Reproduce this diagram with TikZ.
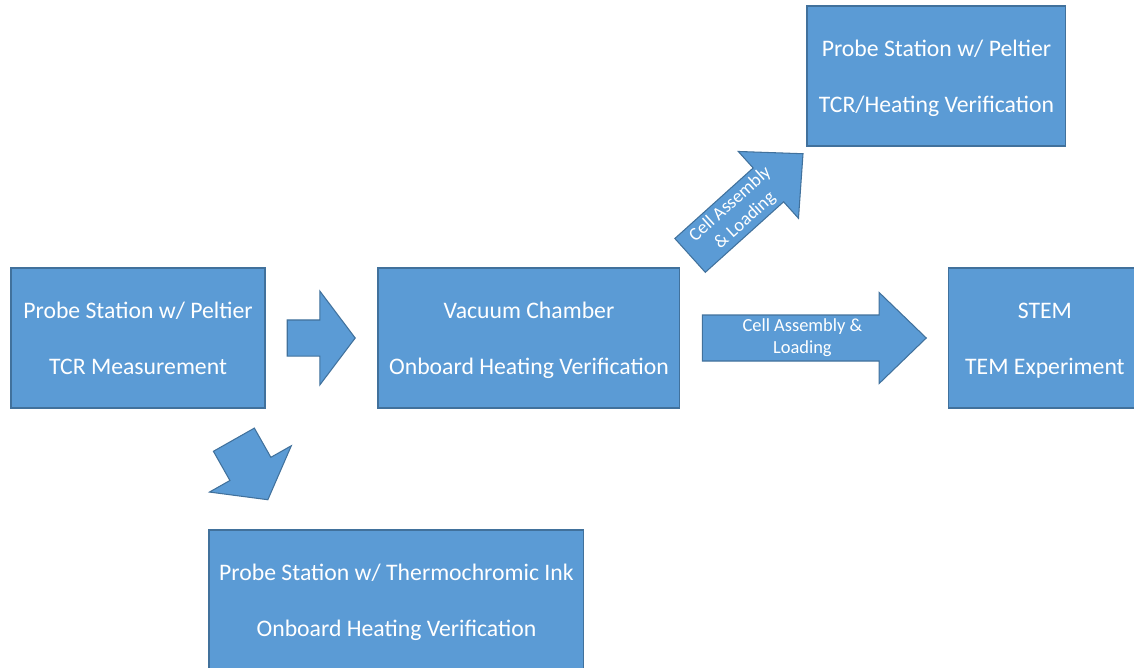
\documentclass[tikz,border=0pt]{standalone}
\usepackage{fontspec}
\setmainfont{Carlito}
\usetikzlibrary{shapes.arrows, positioning}
\definecolor{boxblue}{RGB}{91, 155, 213}
\definecolor{boxedge}{RGB}{65, 113, 156}
\tikzstyle{process} = [rectangle, minimum height=2.8cm,
                       text centered, align=center, draw=boxedge, fill=boxblue,
                       text=white, line width=0.6pt, inner sep=0pt,
                       text height=42pt, text depth=0pt,
                       font=\fontsize{13.5}{32}\selectfont]
\tikzstyle{bigarrow} = [single arrow, draw=boxedge, fill=boxblue,
                        text=white, line width=0.6pt, inner xsep=0pt, inner ysep=0.06cm,
                        align=center, font=\fontsize{10.5}{12.5}\selectfont]
\begin{document}
\begin{tikzpicture}[x=0.02cm, y=-0.02cm]
    \useasboundingbox (0,0) rectangle (1134,667);

    %Stations
    \node (ProbeTCR) [process, minimum width=5.08cm] at (138,338) {Probe Station w/ Peltier\\TCR Measurement};
    \node (Vacuum) [process, minimum width=6.04cm, right=2.24cm of ProbeTCR] {Vacuum Chamber\\Onboard Heating Verification};
    \node (Stem) [process, minimum width=3.84cm, right=5.36cm of Vacuum] {STEM\\TEM Experiment};
    \node (ProbeHeat) [process, minimum width=5.18cm, above right=2.42cm and 2.52cm of Vacuum] {Probe Station w/ Peltier\\TCR/Heating Verification};
    \node (ProbeInk) [process, minimum width=7.5cm, below right=2.42cm and 3.96cm of ProbeTCR.south west] {Probe Station w/ Thermochromic Ink\\Onboard Heating Verification};

    %Block arrows
    \path (ProbeTCR.east) -- node (ArrowVac) [bigarrow, pos=0.437, inner ysep=0.35cm, minimum height=1.36cm, minimum width=1.86cm,
        single arrow head extend=0.58cm, single arrow tip angle=106] {} (Vacuum.west);
    \path (Vacuum.east) -- node (ArrowStem) [bigarrow, pos=0.455, minimum height=4.48cm, minimum width=1.82cm,
        single arrow head extend=0.44cm, single arrow tip angle=88] {Cell Assembly \&\\Loading} (Stem.west);
    \path (Vacuum.north east) -- node (ArrowHeat) [bigarrow, rotate=42, pos=0.455, minimum height=3.04cm, minimum width=1.8cm,
        single arrow head extend=0.44cm, single arrow tip angle=88] {Cell Assembly\\\& Loading} (ProbeHeat.south west);
    \node (ArrowInk) [bigarrow, rotate=-60.5, inner ysep=0.46cm, minimum height=1.38cm, minimum width=1.86cm,
        single arrow head extend=0.47cm, single arrow tip angle=106] at (246.5,462) {};

\end{tikzpicture}
\end{document}
